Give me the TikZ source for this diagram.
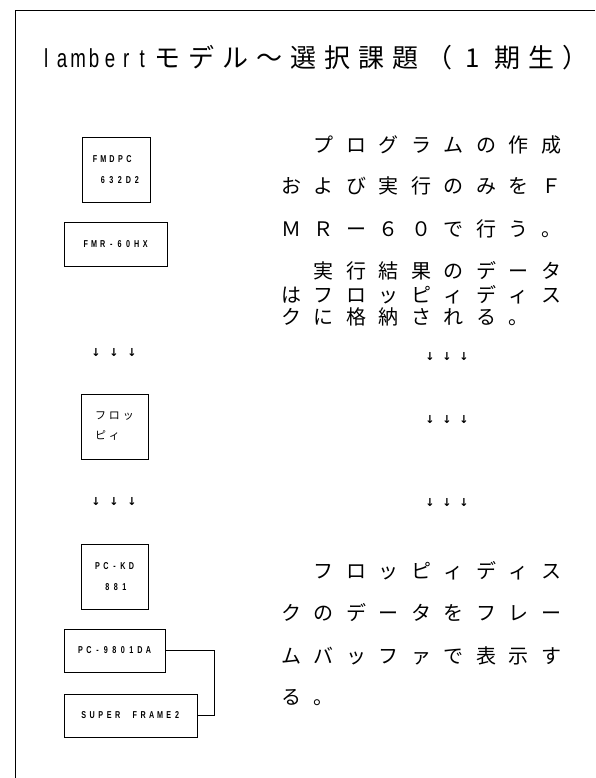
\documentclass[tikz,border=0pt]{standalone}
\usepackage{fontspec}
\setmainfont{Noto Sans CJK JP}
\newfontfamily\jpfont{Noto Sans CJK JP}
\newfontfamily\labelfont[FakeStretch=0.72]{Liberation Sans}
\newfontfamily\symfont{DejaVu Sans}
\usetikzlibrary{calc, positioning}

% every character in a cell of fixed width
\newlength{\cellpitch}
\newcommand{\spaced}[2]{\setlength{\cellpitch}{#1}\spacedloop#2\relax}
\newcommand{\spacedloop}[1]{\ifx#1\relax\else\makebox[\cellpitch][c]{#1}\expandafter\spacedloop\fi}

\tikzset{
  frameline/.style={draw=black, line width=.8pt},
  unitbox/.style={rectangle, draw=black, line width=1pt,
    inner sep=0pt, align=left,
    font=\labelfont\bfseries\fontsize{10}{21}\selectfont},
  kanabox/.style={unitbox, font=\jpfont\fontsize{11}{20}\selectfont},
  prose/.style={anchor=west, inner sep=0pt,
    font=\jpfont\fontsize{20}{20}\selectfont},
  titletext/.style={anchor=west, inner sep=0pt,
    font=\jpfont\fontsize{26}{26}\selectfont},
  downmark/.style={inner sep=0pt, font=\symfont\bfseries\fontsize{11}{11}\selectfont},
  link/.style={draw=black, line width=.6pt},
}

\begin{document}
\begin{tikzpicture}[x=1pt, y=-1pt]
    \useasboundingbox (0,0) rectangle (595,778);
    \draw[frameline] (15,778) -- (15,10) -- (595,10);

    \node[titletext] (title) at (38,58)
      {{\labelfont\spaced{16pt}{lambert}}\spaced{34pt}{モデル～選択課題（1期生）}};

    % machines
    \node[unitbox, minimum width=68pt, minimum height=64pt] (fmdpc) at (116,170)
      {\spaced{8.5pt}{FMDPC}\\\hspace*{8pt}\spaced{8.5pt}{632D2}};
    \node[unitbox, minimum width=103pt, minimum height=44pt] (fmr) at (115.5,244)
      {\spaced{8.5pt}{FMR-60HX}};
    \node[kanabox, minimum width=67pt, minimum height=65pt] (floppy) at (114.5,426.5)
      {\spaced{14pt}{フロッ}\\\spaced{14pt}{ピィ}\phantom{\spaced{14pt}{ロ}}};
    \node[unitbox, minimum width=67pt, minimum height=65pt] (pckd) at (114.5,576.5)
      {\spaced{8.5pt}{PC-KD}\\\hspace*{10pt}\spaced{8.5pt}{881}};
    \node[unitbox, minimum width=101pt, minimum height=43pt] (pc98) at (114.5,650.5)
      {\spaced{8.5pt}{PC-9801DA}};
    \node[unitbox, minimum width=133pt, minimum height=43pt] (sframe) at (130.5,715.5)
      {\spaced{8.5pt}{SUPER~FRAME2}};

    \node[downmark] (dnL1) at (114,353) {\spaced{18pt}{↓↓↓}};
    \node[downmark] (dnL2) at (114,502) {\spaced{18pt}{↓↓↓}};
    \node[downmark] (dnR1) at (447,357) {\spaced{17pt}{↓↓↓}};
    \node[downmark] (dnR2) at (447,420) {\spaced{17pt}{↓↓↓}};
    \node[downmark] (dnR3) at (447,503) {\spaced{17pt}{↓↓↓}};

    % notes
    \node[prose] (prog1) at (307.5,145) {\spaced{32.5pt}{プログラムの作成}};
    \node[prose] (prog2) at (275,186)   {\spaced{32.5pt}{および実行のみをＦ}};
    \node[prose] (prog3) at (275,229)   {\spaced{32.5pt}{ＭＲー６０で行う。}};
    \node[prose] (res1)  at (307.5,271) {\spaced{32.5pt}{実行結果のデータ}};
    \node[prose] (res2)  at (275,295)   {\spaced{32.5pt}{はフロッピィディス}};
    \node[prose] (res3)  at (275,317)   {\spaced{32.5pt}{クに格納される。}};
    \node[prose] (disp1) at (307.5,571) {\spaced{32.5pt}{フロッピィディス}};
    \node[prose] (disp2) at (275,613)   {\spaced{32.5pt}{クのデータをフレー}};
    \node[prose] (disp3) at (275,656)   {\spaced{32.5pt}{ムバッファで表示す}};
    \node[prose] (disp4) at (275,698)   {\spaced{32.5pt}{る。}};

    \draw[link] (pc98.east) -- ([xshift=49pt]pc98.east) |- (sframe.east);
  \end{tikzpicture}
\end{document}
